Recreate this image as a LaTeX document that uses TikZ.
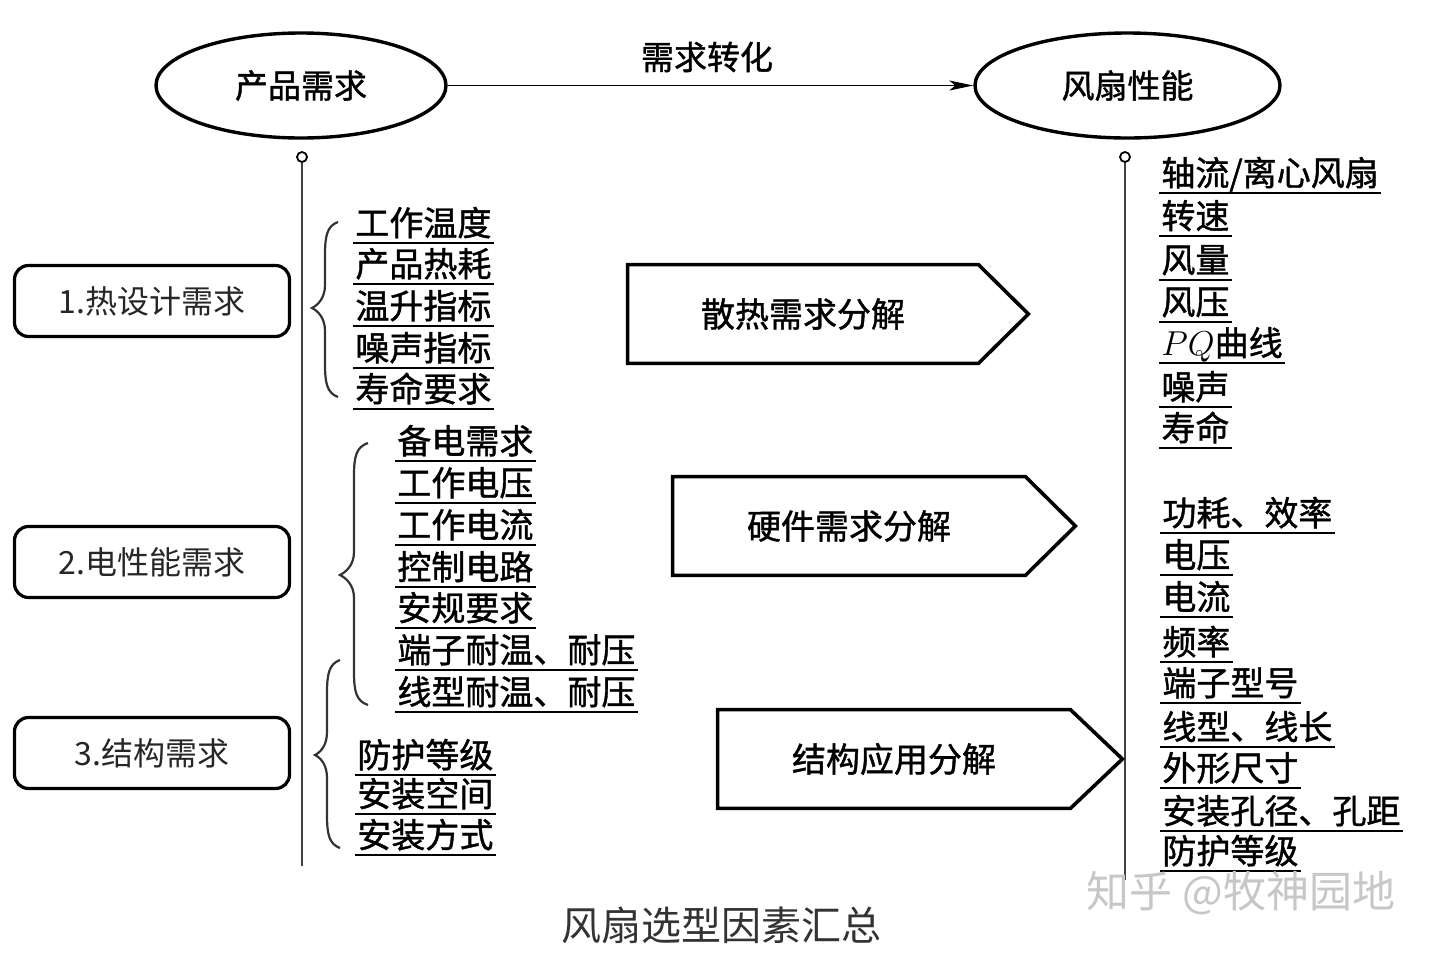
\documentclass[tikz,border=0pt]{standalone}
\usepackage{fontspec}
\setmainfont{Noto Sans CJK SC}
\newfontfamily\cjkb{Noto Sans CJK SC}[FakeBold=1.2]
\usetikzlibrary{shapes.geometric, arrows.meta, calc}
\newcommand{\mybrace}[6]{%
 \draw[brc] (#1,#4) .. controls (#2+2,#4+4) and (#2,#4+14) .. (#2,#4+33)
   -- (#2,#5-23) .. controls (#2,#5-10) and (#3+6,#5-3) .. (#3,#5)
   .. controls (#3+6,#5+3) and (#2,#5+10) .. (#2,#5+23)
   -- (#2,#6-33) .. controls (#2,#6-14) and (#2+2,#6-4) .. (#1,#6);}
\begin{document}
\begin{tikzpicture}[x=0.5pt,y=-0.5pt,
  ell/.style={ellipse, draw, line width=1.7pt, inner sep=0pt, font=\cjkb\fontsize{16.5pt}{18pt}\selectfont},
  req/.style={draw, rounded corners=7pt, line width=1.6pt, minimum width=137.5pt, minimum height=35.5pt, inner sep=0pt, font=\fontsize{16pt}{18pt}\selectfont, text=black!85},
  item/.style={font=\cjkb\fontsize{17pt}{18pt}\selectfont, inner xsep=1pt, inner ysep=0pt, text height=14.5pt, text depth=3.5pt, anchor=south west},
  ul/.style={line width=1pt},
  dec/.style={inner sep=0pt, minimum height=49pt, font=\cjkb\fontsize{17pt}{18pt}\selectfont},
  pent/.style={line width=1.8pt, line join=miter},
  brc/.style={line width=1.1pt, black!80},
  vline/.style={line width=0.8pt, black!75},
  dot/.style={circle, draw, line width=0.9pt, inner sep=0pt, minimum size=5pt}
]
\useasboundingbox (0,0) rectangle (1430,954);
\fill[white] (0,0) rectangle (1430,954);

% top ellipses and arrow
\node[ell, minimum width=145pt, minimum height=52.5pt] (prod) at (301,85.5) {产品需求};
\node[ell, minimum width=152.5pt, minimum height=52.5pt] (fan) at (1127.5,85.5) {风扇性能};
\draw[line width=0.8pt, -{Stealth[length=12pt,width=5pt,inset=3pt]}] (prod) -- (fan);
\node[font=\cjkb\fontsize{16.5pt}{18pt}\selectfont] (conv) at (707,57) {需求转化};

% vertical lines
\node[dot] (c1) at (302,157) {};
\coordinate (e1) at (302,866);
\draw[vline] (c1.south) -- (e1);
\node[dot] (c2) at (1125,157) {};
\coordinate (e2) at (1125,880);
\draw[vline] (c2.south) -- (e2);

% requirement boxes
\node[req] (r1) at (152,301) {1.热设计需求};
\node[req] (r2) at (152,562) {2.电性能需求};
\node[req] (r3) at (152,753) {3.结构需求};

% braces
\mybrace{338}{325}{312}{222}{308}{397}
\mybrace{368}{354}{340}{443}{575}{705}
\mybrace{340}{327}{315}{660}{755}{848}

% left lists
\foreach \y/\t [count=\i] in {243/工作温度,284/产品热耗,326/温升指标,368/噪声指标,409/寿命要求}{
  \node[item] (a\i) at (353,\y) {\t};
  \draw[ul] (a\i.south west) -- (a\i.south east);
}
\foreach \y/\t [count=\i] in {461/备电需求,503/工作电压,545/工作电流,587/控制电路,628/安规要求,670/端子耐温、耐压,712/线型耐温、耐压}{
  \node[item] (b\i) at (395,\y) {\t};
  \draw[ul] (b\i.south west) -- (b\i.south east);
}
\foreach \y/\t [count=\i] in {775/防护等级,814/安装空间,855/安装方式}{
  \node[item] (s\i) at (355,\y) {\t};
  \draw[ul] (s\i.south west) -- (s\i.south east);
}

% decomposition arrows
\node[dec, minimum width=175pt] (d1) at (803,314) {散热需求分解};
\draw[pent] (d1.north west) -- (d1.north east) -- ([xshift=25pt]d1.east) -- (d1.south east) -- (d1.south west) -- cycle;
\node[dec, minimum width=176pt] (d2) at (849,526) {硬件需求分解};
\draw[pent] (d2.north west) -- (d2.north east) -- ([xshift=25pt]d2.east) -- (d2.south east) -- (d2.south west) -- cycle;
\node[dec, minimum width=176pt] (d3) at (894,759) {结构应用分解};
\draw[pent] (d3.north west) -- (d3.north east) -- ([xshift=26pt]d3.east) -- (d3.south east) -- (d3.south west) -- cycle;

% right lists
\foreach \y/\t [count=\i] in {193/{轴流/离心风扇},236/转速,280/风量,322/风压,363/{$PQ$曲线},407/噪声,448/寿命}{
  \node[item] (p\i) at (1159,\y) {\t};
  \draw[ul] (p\i.south west) -- (p\i.south east);
}
\foreach \y/\t [count=\i] in {533/功耗、效率,575/电压,617/电流,662/频率,703/端子型号,747/线型、线长,788/外形尺寸,831/安装孔径、孔距,871/防护等级}{
  \node[item] (q\i) at (1160,\y) {\t};
  \draw[ul] (q\i.south west) -- (q\i.south east);
}

% caption and watermark
\node[font=\fontsize{20pt}{22pt}\selectfont, text=black!80] (cap) at (721,925) {风扇选型因素汇总};
\node[font=\fontsize{21.5pt}{24pt}\selectfont, text=black!22] (wm) at (1241,893) {知乎 @牧神园地};
\end{tikzpicture}
\end{document}
